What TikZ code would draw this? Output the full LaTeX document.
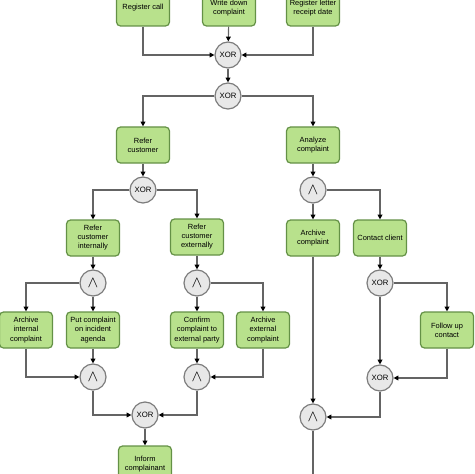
\documentclass[tikz,border=0pt]{standalone}
\usepackage{fontspec}
\setmainfont{Liberation Sans}
\usetikzlibrary{positioning, arrows.meta}
\definecolor{actgreen}  {RGB}{184, 225, 140}
\definecolor{actborder} {RGB}{100, 145, 70}
\definecolor{gatefill}  {RGB}{232, 232, 232}
\definecolor{gateborder}{RGB}{125, 125, 125}
\definecolor{flowgray}  {RGB}{100, 100, 100}
\tikzset{
  % Activity box
  act/.style={
    rectangle, rounded corners=3pt,
    minimum width=39.75pt, minimum height=27pt,
    fill=actgreen, draw=actborder, line width=0.9pt,
    font=\fontsize{5.6}{6.8}\selectfont, align=center, text=black, inner sep=1pt
  },
  % Gateway circle
  gate/.style={
    circle, minimum size=19.5pt, inner sep=0pt,
    fill=gatefill, draw=gateborder, line width=0.9pt,
    font=\fontsize{5.8}{6.8}\selectfont, text=black
  },
  % Flow arrow
  arr/.style={-{Triangle[length=3.6pt, width=3.6pt, color=black]}, line width=0.85pt, draw=flowgray},
  flow/.style={line width=0.85pt, draw=flowgray},
}
\newcommand{\andsym}{{\fontsize{12.5}{12.5}\selectfont$\wedge$}}

\begin{document}
\begin{tikzpicture}[x=0.75pt, y=-0.75pt]
  \useasboundingbox (0,0) rectangle (474,474);
  % top row
  \node[act] (rc) at (143,8)   {Register call};
  \node[act] (wd) at (229,8)   {Write down\\complaint};
  \node[act] (rl) at (313,8)   {Register letter\\receipt date};
  \node[gate] (x1) at (228,55) {XOR};
  \node[gate] (x2) at (228,96) {XOR};
  % left branch
  \node[act]  (rf)  at (143,145) {Refer\\customer};
  \node[gate] (x3)  at (143,190) {XOR};
  \node[act]  (rin) at (93,238)  {Refer\\customer\\internally};
  \node[act]  (rex) at (197,237) {Refer\\customer\\externally};
  \node[gate] (a2)  at (93,283)  {\andsym};
  \node[gate] (a3)  at (197,283) {\andsym};
  \node[act]  (ai)  at (26,330)  {Archive\\internal\\complaint};
  \node[act]  (pc)  at (93,330)  {Put complaint\\on incident\\agenda};
  \node[act]  (cf)  at (197,330) {Confirm\\complaint to\\external party};
  \node[act]  (ae)  at (263,330) {Archive\\external\\complaint};
  \node[gate] (a4)  at (93,377)  {\andsym};
  \node[gate] (a5)  at (197,377) {\andsym};
  \node[gate] (x4)  at (145,415) {XOR};
  \node[act]  (ic)  at (145,464) {Inform\\complainant};
  % right branch
  \node[act]  (an) at (313,145) {Analyze\\complaint};
  \node[gate] (a1) at (313,190) {\andsym};
  \node[act]  (ac) at (313,238) {Archive\\complaint};
  \node[act]  (cc) at (380,238) {Contact client};
  \node[gate] (x5) at (380,283) {XOR};
  \node[act]  (fu) at (447,330) {Follow up\\contact};
  \node[gate] (x6) at (380,378) {XOR};
  \node[gate] (a6) at (313,417) {\andsym};
  \coordinate (out) at (313,480);

  \draw[arr] (rc) |- (x1);
  \draw[arr] (wd) -- (x1);
  \draw[arr] (rl) |- (x1);
  \draw[arr] (x1) -- (x2);
  \draw[arr] (x2) -| (rf);
  \draw[arr] (x2) -| (an);
  \draw[arr] (rf) -- (x3);
  \draw[arr] (x3) -| (rin);
  \draw[arr] (x3) -| (rex);
  \draw[arr] (rin) -- (a2);
  \draw[arr] (rex) -- (a3);
  \draw[arr] (a2) -| (ai);
  \draw[arr] (a2) -- (pc);
  \draw[arr] (a3) -- (cf);
  \draw[arr] (a3) -| (ae);
  \draw[arr] (ai) |- (a4);
  \draw[arr] (pc) -- (a4);
  \draw[arr] (cf) -- (a5);
  \draw[arr] (ae) |- (a5);
  \draw[arr] (a4) |- (x4);
  \draw[arr] (a5) |- (x4);
  \draw[arr] (x4) -- (ic);
  \draw[arr] (an) -- (a1);
  \draw[arr] (a1) -- (ac);
  \draw[arr] (a1) -| (cc);
  \draw[arr] (cc) -- (x5);
  \draw[arr] (x5) -| (fu);
  \draw[arr] (x5) -- (x6);
  \draw[arr] (fu) |- (x6);
  \draw[arr] (ac) -- (a6);
  \draw[arr] (x6) |- (a6);
  \draw[flow] (a6) -- (out);
\end{tikzpicture}
\end{document}
